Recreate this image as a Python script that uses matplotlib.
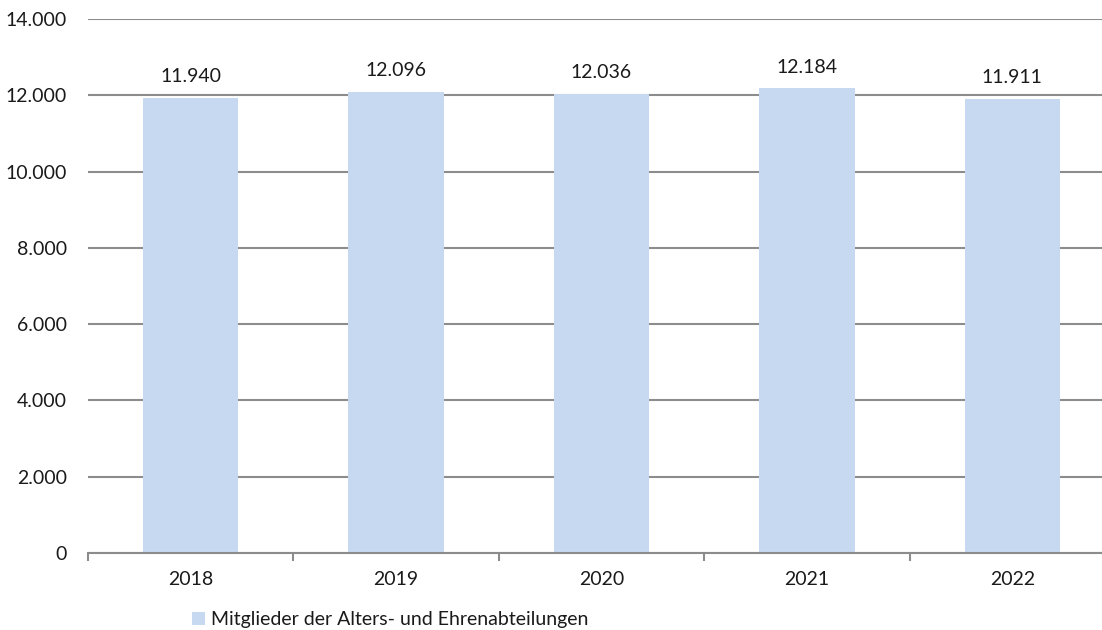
import matplotlib
matplotlib.use("Agg")
import matplotlib.pyplot as plt
from matplotlib.ticker import FuncFormatter, FixedLocator
from matplotlib.patches import Patch

years = ["2018", "2019", "2020", "2021", "2022"]
members = [11940, 12096, 12036, 12184, 11911]
series_label = "Mitglieder der Alters- und Ehrenabteilungen"
y_ticks = [0, 2000, 4000, 6000, 8000, 10000, 12000, 14000]

bar_color = "#c6d9f1"
grid_color = "#8c8c8c"
text_color = "#1a1a1a"
font_size = 14

plt.rcParams["font.family"] = ["Lato", "DejaVu Sans"]

fig = plt.figure(figsize=(11.02, 6.30), dpi=100)
ax = fig.add_axes([0.0799, 0.1222, 0.9319, 0.8476])

x = list(range(len(years)))
bars = ax.bar(x, members, width=0.465, color=bar_color, zorder=2)

def de_thousands(v, pos=None):
    return f"{int(round(v)):,}".replace(",", ".")

for xi, v in zip(x, members):
    ax.annotate(de_thousands(v), (xi, v), xytext=(0, 9), textcoords="offset points",
                ha="center", va="bottom", fontsize=font_size, color=text_color)

ax.set_xlim(-0.5, len(years) - 0.5)
ax.set_ylim(0, 14000)
ax.yaxis.set_major_locator(FixedLocator(y_ticks))
ax.yaxis.set_major_formatter(FuncFormatter(de_thousands))
ax.yaxis.grid(True, color=grid_color, linewidth=1.5, zorder=0)
ax.set_axisbelow(True)

ax.set_xticks(x)
ax.set_xticklabels(years)
ax.set_xticks([i + 0.5 for i in range(-1, len(years))], minor=True)
ax.tick_params(axis="x", which="major", length=0, pad=13, labelsize=font_size, colors=text_color)
ax.tick_params(axis="x", which="minor", length=6, width=1.5, color=grid_color)
ax.tick_params(axis="y", length=0, pad=15, labelsize=font_size, colors=text_color)

for side in ["left", "right", "top"]:
    ax.spines[side].set_visible(False)
ax.spines["bottom"].set_color(grid_color)
ax.spines["bottom"].set_linewidth(1.5)

fig.legend(handles=[Patch(facecolor=bar_color, label=series_label)],
           loc="center left", bbox_to_anchor=(0.158, 0.0159), frameon=False,
           fontsize=14, handlelength=0.68, handleheight=0.68, handletextpad=0.3,
           labelcolor=text_color)

fig.savefig("out.png", dpi=100)
